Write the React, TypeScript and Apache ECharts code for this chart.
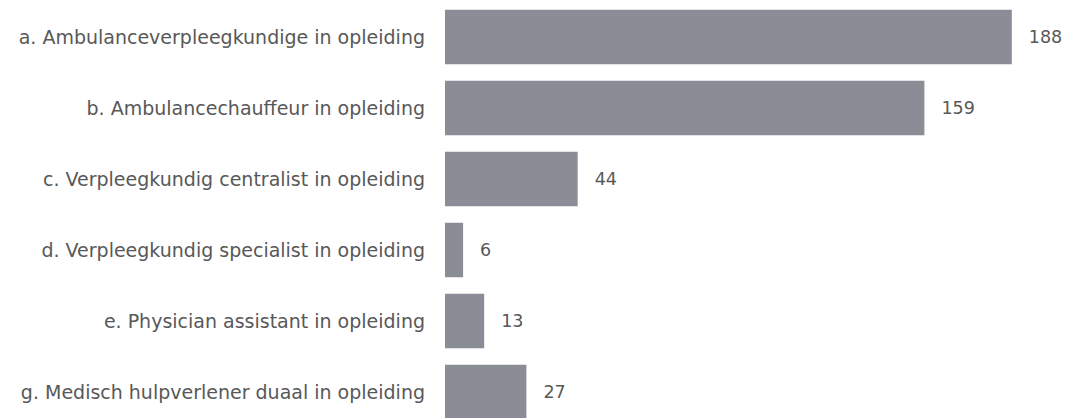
import React, { useEffect, useRef } from "react";
import * as echarts from "echarts";

const categories = [
  "a. Ambulanceverpleegkundige in opleiding",
  "b. Ambulancechauffeur in opleiding",
  "c. Verpleegkundig centralist in opleiding",
  "d. Verpleegkundig specialist in opleiding",
  "e. Physician assistant in opleiding",
  "g. Medisch hulpverlener duaal in opleiding",
];
const values = [188, 159, 44, 6, 13, 27];

export default function App() {
  const ref = useRef<HTMLDivElement>(null);
  useEffect(() => {
    if (!ref.current) return;
    const chart = echarts.init(ref.current, undefined, { renderer: "svg" });
    chart.setOption({
      animation: false,
      grid: { left: 445, top: 1.5, width: 603, height: 426, containLabel: false },
      xAxis: {
        type: "value",
        min: 0,
        max: 200,
        show: false,
      },
      yAxis: {
        type: "category",
        data: categories,
        inverse: true,
        axisLine: { show: false },
        axisTick: { show: false },
        splitLine: { show: false },
        axisLabel: {
          margin: 20,
          color: "#585858",
          fontFamily: "DejaVu Sans",
          fontSize: 19,
        },
      },
      series: [
        {
          type: "bar",
          data: values,
          barCategoryGap: "23%",
          itemStyle: { color: "#8a8d96" },
          label: {
            show: true,
            position: "right",
            distance: 17,
            color: "#585858",
            fontFamily: "DejaVu Sans",
            fontSize: 17.5,
          },
        },
      ],
    });
    return () => chart.dispose();
  }, []);
  return (
    <div style={{ position: "absolute", top: 0, left: 0, width: 1075, height: 418, overflow: "hidden", background: "#fff" }}>
      <div ref={ref} style={{ width: 1075, height: 430 }} />
    </div>
  );
}
